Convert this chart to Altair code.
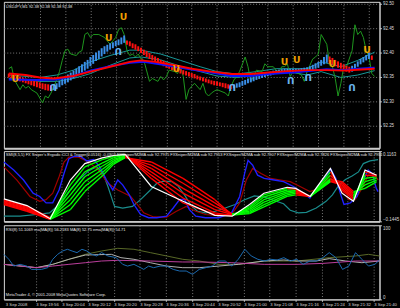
import json
import altair as alt
import pandas as pd

# ---------------- shared time axis (bar index) ----------------
GRID_BARS = [11, 20, 29, 38, 47, 56, 65, 74, 83, 92, 101, 110, 119, 128]
FIRST_LABEL = "3 Sep 2008"
TIME_LABELS = ["3 Sep 19:56", "3 Sep 20:04", "3 Sep 20:12", "3 Sep 20:20",
               "3 Sep 20:28", "3 Sep 20:36", "3 Sep 20:44", "3 Sep 20:52", "3 Sep 21:00",
               "3 Sep 21:08", "3 Sep 21:16", "3 Sep 21:24", "3 Sep 21:32", "3 Sep 21:40"]

# ---------------- panel 1: USDJPY,M1 ----------------
PRICE_TICKS = [92.25, 92.30, 92.35, 92.40, 92.45, 92.50]
CLOSE_BAR = [0, 1, 2, 4, 5, 6, 7, 8, 10, 12,
             13, 14, 15, 17, 18, 19, 20, 21, 22, 24,
             25, 26, 27, 28, 29, 30, 32, 33, 34, 35,
             36, 37, 38, 39, 40, 41, 42, 43, 44, 45,
             46, 47, 48, 50, 51, 52, 53, 54, 55, 56,
             57, 59, 60, 61, 62, 63, 64, 65, 66, 68,
             69, 70, 71, 72, 73, 74, 77, 78, 79, 80,
             81, 82, 84, 85, 86, 87, 88, 90, 91, 92,
             94, 95, 96, 97, 98, 99, 100, 101, 103, 104,
             105, 106, 107, 108, 109, 110, 111, 113, 114, 115,
             116, 117, 118, 119, 120, 122, 123, 124, 125, 126,
             127, 128, 129, 130]
CLOSE = [92.367, 92.371, 92.344, 92.324, 92.334, 92.327, 92.331, 92.324, 92.317, 92.297,
         92.311, 92.307, 92.317, 92.344, 92.361, 92.384, 92.404, 92.407, 92.397, 92.394,
         92.401, 92.404, 92.437, 92.441, 92.431, 92.437, 92.437, 92.434, 92.431, 92.424,
         92.417, 92.424, 92.431, 92.447, 92.451, 92.437, 92.404, 92.394, 92.397, 92.391,
         92.397, 92.387, 92.384, 92.341, 92.347, 92.344, 92.341, 92.351, 92.344, 92.351,
         92.364, 92.361, 92.357, 92.371, 92.351, 92.304, 92.324, 92.331, 92.337, 92.324,
         92.337, 92.317, 92.311, 92.317, 92.321, 92.324, 92.317, 92.311, 92.331, 92.344,
         92.351, 92.361, 92.391, 92.371, 92.341, 92.351, 92.364, 92.361, 92.377, 92.371,
         92.371, 92.364, 92.361, 92.371, 92.371, 92.377, 92.351, 92.361, 92.357, 92.354,
         92.341, 92.361, 92.374, 92.387, 92.391, 92.397, 92.437, 92.417, 92.377, 92.371,
         92.347, 92.311, 92.337, 92.371, 92.371, 92.404, 92.457, 92.437, 92.444, 92.431,
         92.404, 92.391, 92.357, 92.351]

HA_OPEN = [92.357, 92.356, 92.354, 92.352, 92.351, 92.349, 92.347, 92.346, 92.344, 92.342,
           92.341, 92.339, 92.337, 92.336, 92.335, 92.333, 92.323, 92.325, 92.329, 92.333,
           92.336, 92.339, 92.343, 92.347, 92.351, 92.355, 92.359, 92.363, 92.367, 92.372,
           92.377, 92.383, 92.387, 92.392, 92.397, 92.402, 92.406, 92.409, 92.413, 92.415,
           92.417, 92.420, 92.425, 92.423, 92.419, 92.417, 92.413, 92.410, 92.406, 92.403,
           92.399, 92.395, 92.392, 92.389, 92.385, 92.383, 92.380, 92.377, 92.375, 92.372,
           92.369, 92.367, 92.364, 92.362, 92.360, 92.358, 92.356, 92.353, 92.351, 92.349,
           92.347, 92.345, 92.343, 92.342, 92.341, 92.339, 92.338, 92.337, 92.335, 92.334,
           92.327, 92.328, 92.329, 92.332, 92.334, 92.337, 92.339, 92.341, 92.344, 92.346,
           92.348, 92.350, 92.352, 92.353, 92.355, 92.356, 92.357, 92.359, 92.359, 92.360,
           92.360, 92.359, 92.360, 92.361, 92.361, 92.361, 92.362, 92.363, 92.364, 92.367,
           92.369, 92.373, 92.376, 92.379, 92.392, 92.389, 92.385, 92.382, 92.379, 92.376,
           92.373, 92.371, 92.361, 92.365, 92.371, 92.376, 92.380, 92.384, 92.387, 92.394]
HA_CLOSE = [92.349, 92.347, 92.345, 92.343, 92.341, 92.339, 92.337, 92.335, 92.333, 92.331,
            92.329, 92.327, 92.325, 92.323, 92.322, 92.321, 92.334, 92.337, 92.342, 92.346,
            92.351, 92.355, 92.359, 92.363, 92.367, 92.372, 92.376, 92.381, 92.385, 92.391,
            92.395, 92.400, 92.404, 92.409, 92.413, 92.416, 92.419, 92.421, 92.424, 92.427,
            92.431, 92.435, 92.416, 92.413, 92.409, 92.406, 92.403, 92.399, 92.395, 92.391,
            92.387, 92.384, 92.381, 92.377, 92.375, 92.372, 92.369, 92.367, 92.364, 92.362,
            92.360, 92.357, 92.355, 92.353, 92.351, 92.349, 92.347, 92.345, 92.343, 92.341,
            92.339, 92.337, 92.335, 92.333, 92.332, 92.331, 92.329, 92.327, 92.326, 92.325,
            92.335, 92.337, 92.339, 92.342, 92.344, 92.347, 92.349, 92.351, 92.353, 92.355,
            92.357, 92.359, 92.360, 92.361, 92.363, 92.364, 92.365, 92.366, 92.367, 92.367,
            92.367, 92.367, 92.367, 92.367, 92.368, 92.369, 92.370, 92.372, 92.375, 92.378,
            92.381, 92.385, 92.391, 92.396, 92.377, 92.375, 92.372, 92.369, 92.367, 92.364,
            92.361, 92.359, 92.373, 92.377, 92.382, 92.387, 92.391, 92.395, 92.399, 92.385]

RED_MA_X = [0, 6, 11, 16, 23, 29, 36, 43, 47, 52, 59, 65, 72, 79, 86, 92, 99, 106, 113, 119, 124, 130]
RED_MA = [92.357, 92.354, 92.349, 92.347, 92.352, 92.361, 92.371, 92.381, 92.384, 92.381, 92.374,
          92.367, 92.361, 92.356, 92.356, 92.359, 92.362, 92.364, 92.364, 92.363, 92.365, 92.367]
BLUE_MA_X = [0, 11, 17, 23, 29, 36, 43, 48, 56, 65, 72, 79, 86, 92, 101, 113, 119, 124, 130]
BLUE_MA = [92.345, 92.344, 92.345, 92.352, 92.363, 92.372, 92.379, 92.381, 92.374, 92.365,
           92.359, 92.352, 92.352, 92.356, 92.359, 92.366, 92.364, 92.367, 92.369]
BAND_X = [0, 11, 17, 23, 29, 36, 43, 47, 54, 61, 68, 74, 81, 88, 95, 101, 106, 111, 118, 124, 130]
BAND_UP = [92.354, 92.349, 92.354, 92.364, 92.381, 92.394, 92.405, 92.405, 92.397, 92.384, 92.371,
           92.361, 92.356, 92.361, 92.367, 92.367, 92.367, 92.381, 92.371, 92.384, 92.401]
BAND_LO = [92.347, 92.341, 92.341, 92.347, 92.357, 92.374, 92.389, 92.391, 92.385, 92.372, 92.361,
           92.352, 92.349, 92.354, 92.359, 92.359, 92.354, 92.361, 92.349, 92.354, 92.363]

UP_ARROW_X = [2.3, 40.8, 35.5, 59.5, 98.0, 102.3, 114.9, 127.3]
UP_ARROW_Y = [92.346, 92.472, 92.429, 92.366, 92.381, 92.384, 92.376, 92.406]
DN_ARROW_X = [15.8, 38.9, 79.4, 100.2, 106.4, 122.0]
DN_ARROW_Y = [92.329, 92.404, 92.329, 92.344, 92.351, 92.329]

TITLE1 = "USDJPY,M1  92.38 92.38 92.38 92.38"

# ---------------- panel 2: SMI / FX Sniper ----------------
P2_TICKS = [-0.1445, 0.1163]
FAN_X = [0, 8, 16, 23, 28, 34, 38, 42, 51, 62, 73, 79, 85, 90, 98, 101, 106, 113, 117, 121, 125, 129]
FAN1 = [-0.064, -0.089, -0.131, -0.009, 0.058, 0.085, 0.097, 0.104, 0.015, -0.076, -0.119,
        -0.123, -0.089, -0.046, -0.022, -0.025, -0.052, 0.039, -0.028, -0.064, 0.039, 0.027]
FAN2 = [-0.068, -0.092, -0.133, -0.028, 0.039, 0.072, 0.092, 0.102, 0.027, -0.058, -0.113,
        -0.122, -0.095, -0.054, -0.028, -0.028, -0.052, 0.027, -0.022, -0.058, 0.027, 0.024]
FAN3 = [-0.072, -0.096, -0.134, -0.046, 0.021, 0.060, 0.086, 0.099, 0.039, -0.040, -0.101,
        -0.119, -0.101, -0.064, -0.034, -0.031, -0.052, 0.015, -0.015, -0.052, 0.015, 0.021]
FAN4 = [-0.075, -0.100, -0.135, -0.064, 0.003, 0.048, 0.080, 0.097, 0.052, -0.022, -0.089,
        -0.117, -0.107, -0.073, -0.040, -0.035, -0.052, 0.003, -0.009, -0.046, 0.003, 0.015]
FAN5 = [-0.079, -0.103, -0.136, -0.082, -0.015, 0.036, 0.074, 0.094, 0.064, -0.003, -0.076,
        -0.117, -0.112, -0.082, -0.046, -0.040, -0.052, 0.005, -0.003, -0.040, -0.009, 0.009]
FAN6 = [-0.082, -0.107, -0.137, -0.101, -0.034, 0.024, 0.068, 0.092, 0.076, 0.015, -0.064,
        -0.121, -0.116, -0.091, -0.052, -0.046, -0.052, 0.010, 0.003, -0.034, -0.022, 0.003]
WHITE2 = [-0.061, -0.086, -0.135, 0.009, 0.070, 0.091, 0.100, 0.104, -0.015, -0.070, -0.122,
          -0.125, -0.082, -0.040, -0.018, -0.022, -0.052, 0.052, -0.040, -0.070, 0.046, 0.027]
BLUE2_X = [0, 3.4, 6.8, 10.1, 12.4, 14.6, 16.9, 19.1, 20.8, 22.5,
           24.2, 26.5, 28.7, 31, 33.2, 35.5, 37.7, 39.4, 41.1, 43.4,
           45, 47.3, 50.1, 52.9, 56.3, 58.6, 60.8, 62.5, 64.2, 66.4,
           69.8, 74.3, 78.8, 81.6, 83.3, 84.5, 86.1, 87.8, 90.1, 93.5,
           96.8, 100.2, 103.6, 105.9, 108.1, 110.9, 113.2, 114.9, 116.6, 117.7,
           119.9, 122.2, 123.9, 126.1, 127.5, 128.9, 129.5]
BLUE2 = [0.076, 0.046, 0.009, -0.040, -0.052, -0.076, -0.076, -0.028, 0.033, 0.088,
         0.097, 0.097, 0.080, 0.085, 0.058, 0.009, -0.028, 0.009, -0.009, -0.046,
         -0.082, -0.119, -0.131, -0.131, -0.125, -0.095, -0.064, -0.062, -0.101, -0.125,
         -0.131, -0.131, -0.113, -0.052, 0.033, 0.082, 0.064, 0.027, 0.015, 0.009,
         0.003, -0.015, -0.040, -0.058, -0.022, 0.015, 0.048, 0.015, -0.046, -0.082,
         -0.076, -0.052, -0.003, 0.046, 0.033, -0.022, -0.034]
DRED_X = [0, 4.5, 9, 12.4, 14.6, 16.9, 19.1, 20.8, 22.5, 25.9,
          29.3, 32.7, 36, 39.4, 41.7, 43.9, 46.2, 48.4, 51.8, 56.3,
          59.7, 63.1, 66.4, 69.8, 74.3, 78.8, 81.6, 83.9, 86.1, 89,
          92.3, 95.7, 99.1, 102.5, 105.9, 109.2, 112.6, 114.3, 117.1, 119.4,
          121.6, 123.9, 126.1, 128.4, 129.5]
DRED = [0.058, 0.009, -0.052, -0.070, -0.064, -0.040, 0.021, 0.076, 0.094, 0.094,
        0.076, 0.046, -0.003, -0.028, -0.040, -0.052, -0.082, -0.113, -0.128, -0.129,
        -0.107, -0.089, -0.107, -0.119, -0.123, -0.119, -0.076, 0.009, 0.052, 0.033,
        0.015, 0.009, 0.003, -0.015, -0.034, -0.022, 0.021, 0.021, -0.034, -0.064,
        -0.064, -0.022, 0.027, 0.027, 0.009]
TEAL2_X = [0, 5.6, 11.3, 15.8, 19.1, 22.5, 25.9, 29.3, 32.1, 34.3,
           36, 38.3, 41.1, 44.5, 47.3, 50.7, 52.9, 55.2, 58, 60.2,
           62.5, 64.8, 67, 69.8, 73.2, 76.6, 80, 83.3, 86.7, 90.1,
           93.5, 96.8, 99.1, 101.9, 104.7, 108.1, 111.5, 113.7, 116, 118.2,
           120.5, 122.7, 124.4, 126.7, 129.5]
TEAL2 = [-0.125, -0.125, -0.119, -0.113, -0.082, -0.034, 0.009, 0.043, 0.058, 0.033,
         -0.015, -0.089, -0.095, -0.089, -0.064, -0.028, -0.003, 0.005, 0.003, -0.013,
         -0.046, -0.086, -0.107, -0.113, -0.107, -0.095, -0.082, -0.064, -0.050, -0.054,
         -0.067, -0.079, -0.103, -0.113, -0.111, -0.095, -0.070, -0.046, -0.009, 0.011,
         0.024, 0.039, 0.070, 0.080, 0.085]
TITLE2 = ("SMI(8,5,5)  FX Sniper's Ergodic CCI & Trigger(0.0516) -0.0302  FXSniper/M2MA sub 92.7975  "
          "FXSniper/M2MA sub 92.7953  FXSniper/M2MA sub 92.7907  FXSniper/M2MA sub 92.7826  "
          "FXSniper/M2MA sub 92.7951")

# ---------------- panel 3: RSI ----------------
P3_TICKS = [0, 100]
RSI_X = [0, 1.7, 3.4, 5.6, 7.9, 9.6, 13, 15.2, 16.9, 18.6,
         20.3, 22, 23.6, 25.3, 27, 28.7, 30.4, 32.1, 33.8, 36,
         38.9, 41.1, 42.8, 45, 47.3, 48.4, 50.1, 51.8, 54.1, 56.3,
         58.6, 60.8, 63.1, 65.3, 67.6, 69.9, 72.1, 74.4, 76.6, 78.9,
         81.1, 83.4, 85.6, 87.9, 90.1, 92.4, 94.6, 96.9, 99.1, 101.4,
         103.6, 105.9, 108.1, 110.4, 112.6, 114.9, 117.2, 119.4, 121.7, 123.9,
         126.2, 128.4, 130]
RSI = [60.8, 54.1, 45, 47.3, 45, 40.5, 40.5, 42.8, 54.1, 60.8,
       65.3, 67.6, 65.3, 63.1, 67.6, 65.3, 60.8, 58.6, 63.1, 58.6,
       56.3, 47.3, 45, 47.3, 42.8, 40.5, 45, 42.8, 45, 45,
       40.5, 38.3, 38.3, 33.8, 40.5, 42.8, 45, 51.8, 51.8, 45,
       54.1, 67.6, 58.6, 54.1, 51.8, 54.1, 53.2, 56.3, 51.8, 54.1,
       47.3, 51.8, 51.8, 56.3, 63.1, 56.3, 40.5, 45, 63.1, 54.1,
       45, 47.3, 53.2]
OLIVE_X = [0, 11.3, 16.9, 22.5, 28.2, 33.8, 39.4, 45, 50.7, 56.3, 61.9, 67.6, 74.4, 81.1, 90.1,
           101.4, 112.6, 121.7, 126.2, 130]
OLIVE = [47.3, 42.8, 47.3, 54.1, 60.8, 65.3, 68.9, 67.6, 63.1, 58.6, 54.1, 51.8, 47.3, 47.3, 51.8,
         51.8, 56.3, 58.6, 60.8, 58.6]
GREY_X = [0, 11.3, 16.9, 22.5, 28.2, 37.2, 40.5, 45, 50.7, 56.3, 61.9, 67.6, 74.4, 81.1, 90.1,
          96.9, 101.4, 108.1, 112.6, 118.3, 123.9, 130]
GREY = [47.3, 42.8, 47.3, 54.1, 59.9, 60.8, 56.3, 54.1, 49.5, 45, 42.8, 42.8, 45, 47.3, 51.8,
        53.2, 51.8, 51.8, 55, 51.8, 49.5, 51.8]
PURPLE_X = [0, 11.3, 16.9, 22.5, 28.2, 33.8, 39.4, 50.7, 61.9, 67.6, 78.9, 90.1, 101.4, 110.4,
            121.7, 130]
PURPLE = [47.3, 42.8, 45, 47.3, 49.5, 51.8, 52.7, 51.8, 50.5, 50.5, 49.5, 47.3, 47.3, 48.6,
          51.8, 51.8]
TITLE3 = "RSI(8) 51.1069  ma(MA(8)) 56.2183  MA(8) 52.75  ema(MA(8)) 54.71"
FOOTER = "MetaTrader 4, \u00a9 2001-2008 MetaQuotes Software Corp."

# ---------------- styling ----------------
W = 385
H1, H2, H3 = 150, 72, 76
FONT = "Liberation Sans"
GRIDC = "#7c7c7c"
FRAME = "#c8c8c8"
LABELC = "#d8d8d8"

XS = alt.Scale(domain=[0, 130], nice=False, zero=False)

ax_x_plain = alt.Axis(values=GRID_BARS, labels=False, ticks=False, grid=True, gridColor=GRIDC,
                      gridDash=[1, 2], gridWidth=1, domainColor=FRAME, domainWidth=2, title=None)
label_expr = json.dumps(TIME_LABELS) + "[(datum.value - 11) / 9]"
ax_x_time = alt.Axis(values=GRID_BARS, labelExpr=label_expr, labelAlign="left",
                     labelFontSize=4.3, labelColor=LABELC, labelFont=FONT, labelPadding=1,
                     labelOverlap=False, ticks=True, tickSize=2, tickColor=FRAME,
                     grid=True, gridColor=GRIDC, gridDash=[1, 2], gridWidth=1,
                     domainColor=FRAME, domainWidth=1, title=None)


def yaxis(values, fmt, grid, flush):
    kw = dict(orient="right", values=values, format=fmt, grid=grid, labelFontSize=4.6,
              labelColor=LABELC, labelFont=FONT, labelPadding=1, tickSize=2, tickColor=FRAME,
              domainColor=FRAME, domainWidth=1, title=None, labelFlush=flush)
    if grid:
        kw.update(gridColor=GRIDC, gridDash=[1, 2], gridWidth=1)
    return alt.Axis(**kw)


Y1S = alt.Scale(domain=[92.204, 92.504], nice=False, zero=False)
Y2S = alt.Scale(domain=[-0.1445, 0.1163], nice=False, zero=False)
Y3S = alt.Scale(domain=[0, 100], nice=False, zero=False)
ax_y1 = yaxis(PRICE_TICKS, ".2f", True, False)
ax_y2 = yaxis(P2_TICKS, ".4f", False, True)
ax_y3 = yaxis(P3_TICKS, "d", False, True)


def layer_line(xs, ys, color, width, ysc, yax, xax):
    df = pd.DataFrame({"x": xs, "y": ys})
    return alt.Chart(df).mark_line(color=color, strokeWidth=width).encode(
        x=alt.X("x:Q", scale=XS, axis=xax),
        y=alt.Y("y:Q", scale=ysc, axis=yax),
    )


def title_text(txt, y, size=4.1, color="#e8e8e8"):
    return alt.Chart(pd.DataFrame({"t": [txt]})).mark_text(
        align="left", baseline="middle", font=FONT, fontSize=size, color=color
    ).encode(text="t:N", x=alt.value(2), y=alt.value(y))


# ---- panel 1 ----
ha = pd.DataFrame({"x": list(range(len(HA_OPEN))), "o": HA_OPEN, "c": HA_CLOSE})
ha["dir"] = ["ha_up" if c >= o else "ha_down" for o, c in zip(HA_OPEN, HA_CLOSE)]
ha_layer = alt.Chart(ha).mark_bar(size=2).encode(
    x=alt.X("x:Q", scale=XS, axis=ax_x_plain),
    y=alt.Y("o:Q", scale=Y1S, axis=ax_y1),
    y2="c:Q",
    color=alt.Color("dir:N", scale=alt.Scale(domain=["ha_up", "ha_down"], range=["#3a8ee8", "#ff1010"]),
                    legend=None),
)
arrows_up = alt.Chart(pd.DataFrame({"x": UP_ARROW_X, "y": UP_ARROW_Y})).mark_text(
    text="U", font="DejaVu Sans", fontWeight="bold", fontSize=9.5, color="#f0a000", baseline="middle"
).encode(x=alt.X("x:Q", scale=XS, axis=ax_x_plain), y=alt.Y("y:Q", scale=Y1S, axis=ax_y1))
arrows_dn = alt.Chart(pd.DataFrame({"x": DN_ARROW_X, "y": DN_ARROW_Y})).mark_text(
    text="U", font="DejaVu Sans", fontWeight="bold", fontSize=9.5, color="#6ab4f0", baseline="middle",
    angle=180
).encode(x=alt.X("x:Q", scale=XS, axis=ax_x_plain), y=alt.Y("y:Q", scale=Y1S, axis=ax_y1))

p1 = alt.layer(
    layer_line(BAND_X, BAND_UP, "#1a9a9a", 1, Y1S, ax_y1, ax_x_plain),
    layer_line(BAND_X, BAND_LO, "#1a9a9a", 1, Y1S, ax_y1, ax_x_plain),
    layer_line(CLOSE_BAR, CLOSE, "#1f9a1f", 1, Y1S, ax_y1, ax_x_plain),
    ha_layer,
    layer_line(BLUE_MA_X, BLUE_MA, "#1010ff", 2, Y1S, ax_y1, ax_x_plain),
    layer_line(RED_MA_X, RED_MA, "#ff0000", 2, Y1S, ax_y1, ax_x_plain),
    arrows_up,
    arrows_dn,
    title_text(TITLE1, 5),
).properties(width=W, height=H1)

# ---- panel 2 ----
rows = []
for k, fan in enumerate([FAN6, FAN5, FAN4, FAN3, FAN2, FAN1]):
    for i in range(len(FAN_X) - 1):
        d = "fan_up" if fan[i + 1] >= fan[i] else "fan_down"
        seg = f"{k}-{i}"
        rows.append({"x": FAN_X[i], "y": fan[i], "seg": seg, "dir": d, "o": 0})
        rows.append({"x": FAN_X[i + 1], "y": fan[i + 1], "seg": seg, "dir": d, "o": 1})
fan_df = pd.DataFrame(rows)
fan_layer = alt.Chart(fan_df).mark_line(strokeWidth=1.4).encode(
    x=alt.X("x:Q", scale=XS, axis=ax_x_plain),
    y=alt.Y("y:Q", scale=Y2S, axis=ax_y2),
    detail="seg:N",
    order="o:Q",
    color=alt.Color("dir:N", scale=alt.Scale(domain=["fan_up", "fan_down"], range=["#00ff00", "#ff0000"]),
                    legend=None),
)
p2 = alt.layer(
    layer_line(TEAL2_X, TEAL2, "#1a8c8c", 1.2, Y2S, ax_y2, ax_x_plain),
    layer_line(DRED_X, DRED, "#a00000", 1.2, Y2S, ax_y2, ax_x_plain),
    layer_line(BLUE2_X, BLUE2, "#2020ff", 1.4, Y2S, ax_y2, ax_x_plain),
    fan_layer,
    layer_line(FAN_X, WHITE2, "#ffffff", 1.2, Y2S, ax_y2, ax_x_plain),
    title_text(TITLE2, 4),
).properties(width=W, height=H2)

# ---- panel 3 ----
p3 = alt.layer(
    layer_line(OLIVE_X, OLIVE, "#5a6b28", 1, Y3S, ax_y3, ax_x_time),
    layer_line(GREY_X, GREY, "#b4b4b4", 1, Y3S, ax_y3, ax_x_time),
    layer_line(PURPLE_X, PURPLE, "#c040a0", 1, Y3S, ax_y3, ax_x_time),
    layer_line(RSI_X, RSI, "#1c6cb4", 1, Y3S, ax_y3, ax_x_time),
    title_text(TITLE3, 5),
    title_text(FOOTER, H3 - 4),
    title_text(FIRST_LABEL, H3 + 5.5, 4.3, LABELC),
).properties(width=W, height=H3)

chart = alt.vconcat(p1, p2, p3, spacing=1).resolve_scale(color="independent").properties(
    background="black", padding={"top": -4, "left": 0, "right": 0, "bottom": 0}
).configure_view(stroke=None).configure(font=FONT)

chart.save("out.html", embed_options={"renderer": "svg", "actions": False})
